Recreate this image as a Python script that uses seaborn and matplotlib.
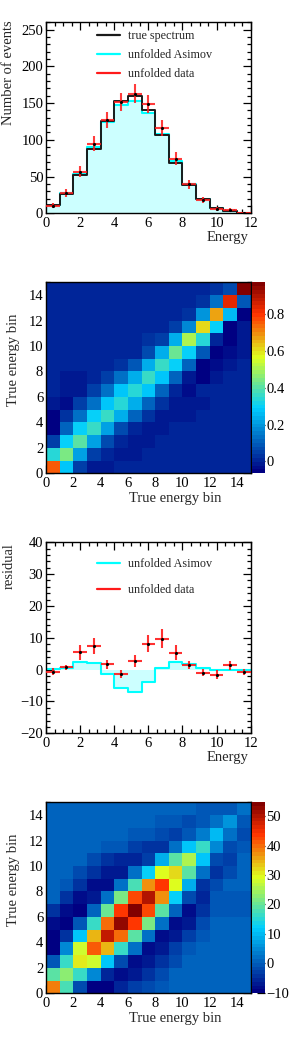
import numpy as np
import pandas as pd
import seaborn as sns
import matplotlib
matplotlib.use("Agg")
import matplotlib.pyplot as plt
from matplotlib.colors import LinearSegmentedColormap
from matplotlib.lines import Line2D
from matplotlib.ticker import MultipleLocator, FixedLocator, FixedFormatter

# ---------------- data ----------------
bin_edges = [0.0, 0.8, 1.6, 2.4, 3.2, 4.0, 4.8, 5.6, 6.4, 7.2, 8.0, 8.8, 9.6, 10.4, 11.2, 12.0]
bin_centers = [0.4, 1.2, 2.0, 2.8, 3.6, 4.4, 5.2, 6.0, 6.8, 7.6, 8.4, 9.2, 10.0, 10.8, 11.6]

true_spectrum = [11.0, 26.5, 51.5, 87.5, 125.5, 153.0, 160.0, 141.0, 107.0, 69.0, 38.0, 19.0, 7.7, 3.6, 1.0]
unfolded_asimov = [11.3, 27.1, 53.8, 89.6, 124.0, 147.1, 153.1, 137.1, 107.4, 71.3, 39.7, 19.5, 7.6, 3.6, 1.0]
unfolded_data = [10.4, 27.2, 56.9, 94.9, 127.2, 151.7, 162.7, 149.2, 116.7, 74.3, 39.4, 18.0, 6.1, 5.0, 0.3]
unfolded_data_err = [3.5, 5.5, 7.5, 9.7, 11.3, 12.3, 12.8, 12.2, 10.8, 8.6, 6.3, 4.2, 2.5, 2.2, 0.6]

asimov_residual = [0.3, 0.6, 2.3, 2.1, -1.5, -5.9, -6.9, -3.9, 0.4, 2.3, 1.7, 0.5, -0.1, 0.0, 0.0]
data_residual = [-0.6, 0.7, 5.4, 7.4, 1.7, -1.3, 2.7, 8.2, 9.7, 5.3, 1.35, -1.0, -1.6, 1.35, -0.7]
data_residual_err = [1.0, 0.8, 2.4, 2.6, 1.4, 1.3, 1.8, 2.8, 3.0, 2.4, 1.3, 1.1, 1.4, 1.5, 1.0]

# matrix rows = y bin 0..14 (bottom to top), columns = x bin 0..14
response_matrix = [
    [0.76, 0.28, 0.04, -0.01, -0.01, 0.01, 0.01, 0.01, 0.01, 0.01, 0.01, 0.0, 0.0, 0.0, 0.0],
    [0.33, 0.45, 0.22, 0.06, 0.0, -0.01, -0.01, 0.0, 0.0, 0.0, 0.0, 0.0, 0.0, 0.0, 0.0],
    [0.04, 0.30, 0.40, 0.22, 0.07, 0.0, -0.01, -0.01, 0.0, 0.0, 0.0, 0.0, 0.0, 0.0, 0.0],
    [-0.06, 0.12, 0.30, 0.37, 0.22, 0.07, 0.0, -0.01, -0.01, 0.0, 0.0, 0.0, 0.0, 0.0, 0.0],
    [-0.06, 0.03, 0.13, 0.29, 0.35, 0.23, 0.11, 0.02, -0.01, -0.01, -0.01, 0.0, 0.0, 0.0, 0.0],
    [-0.01, -0.03, 0.04, 0.13, 0.27, 0.34, 0.23, 0.11, 0.02, -0.01, -0.02, -0.01, 0.0, 0.0, 0.0],
    [0.0, -0.01, -0.02, 0.04, 0.13, 0.27, 0.34, 0.27, 0.11, 0.01, -0.03, 0.0, 0.0, 0.0, 0.0],
    [0.0, -0.01, -0.02, 0.0, 0.05, 0.13, 0.23, 0.35, 0.28, 0.12, -0.01, -0.05, -0.01, 0.0, 0.0],
    [0.0, 0.0, 0.0, 0.0, 0.0, 0.02, 0.09, 0.23, 0.37, 0.29, 0.12, -0.05, -0.04, -0.01, 0.0],
    [0.0, 0.0, 0.0, 0.0, 0.0, 0.0, 0.01, 0.07, 0.23, 0.42, 0.29, 0.10, -0.06, -0.03, -0.01],
    [0.0, 0.0, 0.0, 0.0, 0.0, 0.0, 0.0, 0.02, 0.05, 0.23, 0.50, 0.33, 0.01, -0.05, -0.01],
    [0.0, 0.0, 0.0, 0.0, 0.0, 0.0, 0.0, 0.0, 0.01, 0.04, 0.18, 0.60, 0.30, -0.05, -0.01],
    [0.0, 0.0, 0.0, 0.0, 0.0, 0.0, 0.0, 0.0, 0.0, 0.01, 0.02, 0.20, 0.68, 0.25, -0.06],
    [0.0, 0.0, 0.0, 0.0, 0.0, 0.0, 0.0, 0.0, 0.0, 0.0, 0.01, 0.02, 0.13, 0.83, 0.09],
    [0.0, 0.0, 0.0, 0.0, 0.0, 0.0, 0.0, 0.0, 0.0, 0.0, 0.0, 0.0, 0.02, 0.08, 0.97],
]

covariance_matrix = [
    [39.0, 17.7, -1.8, -9.5, -9.5, -6.3, -3.0, -1.8, -0.5, 0.5, 0.5, 0.5, 0.5, 0.5, 0.5],
    [19.0, 23.5, 16.4, 4.7, -6.3, -8.5, -7.3, -4.0, -2.0, 0.5, 0.5, 0.5, 0.5, 0.5, 0.5],
    [-0.8, 16.5, 30.7, 28.0, 11.2, -1.8, -8.5, -7.3, -4.0, -2.0, 0.5, 0.5, 0.5, 0.5, 0.5],
    [-10.2, 4.5, 28.0, 41.0, 34.6, 17.0, 1.5, -8.5, -7.5, -3.0, -1.0, 0.5, 0.5, 0.5, 0.5],
    [-10.2, -4.0, 11.5, 35.0, 48.8, 39.8, 19.0, 1.5, -8.5, -7.3, -3.0, -1.0, 0.5, 0.5, 0.5],
    [-8.5, -9.5, -1.0, 17.0, 40.0, 52.7, 43.7, 21.0, 1.5, -8.5, -7.0, -2.0, 0.5, 0.5, 0.5],
    [-5.0, -8.5, -9.5, 0.5, 20.5, 44.0, 54.5, 43.0, 19.0, 0.5, -8.5, -4.0, 0.0, 0.0, 0.0],
    [0.5, -4.0, -8.5, -7.5, 2.5, 21.0, 43.0, 50.8, 37.0, 13.0, -2.0, -6.3, 0.0, 0.0, 0.0],
    [0.5, -0.5, -4.0, -8.5, -8.0, 1.5, 18.0, 37.0, 44.0, 29.0, 8.5, -4.0, -2.0, 0.5, 0.5],
    [0.5, 0.5, -2.0, -4.0, -7.5, -7.5, 1.5, 13.0, 29.0, 32.6, 19.0, 1.5, -5.0, -2.0, 0.5],
    [0.5, 0.5, 0.5, -2.0, -4.0, -6.3, -6.3, -3.0, 8.0, 19.0, 26.0, 11.0, -2.0, -3.0, 0.5],
    [0.5, 0.5, 0.5, 0.5, 0.0, -1.0, -3.0, -5.0, -4.0, 1.5, 11.5, 16.5, 4.5, -2.0, -1.0],
    [0.5, 0.5, 0.5, 0.5, 0.5, 0.5, 0.0, -1.0, -2.0, -3.0, -1.0, 3.5, 10.5, 2.5, -2.0],
    [0.5, 0.5, 0.5, 0.5, 0.5, 0.5, 0.5, 0.5, 0.0, -1.0, -2.0, -1.0, 1.5, 6.0, -1.0],
    [0.5, 0.5, 0.5, 0.5, 0.5, 0.5, 0.5, 0.5, 0.5, 0.5, 0.5, 0.0, 0.0, 0.0, 2.5],
]

matrix_ticks = [0, 2, 4, 6, 8, 10, 12, 14]
cbar1_ticks = [0.0, 0.2, 0.4, 0.6, 0.8]
cbar1_labels = ["0", "0.2", "0.4", "0.6", "0.8"]
cbar2_ticks = [-10, 0, 10, 20, 30, 40, 50]
cbar2_labels = ["\u221210", "0", "10", "20", "30", "40", "50"]

# ---------------- style ----------------
sns.set_style("ticks")
plt.rcParams["font.family"] = ["Liberation Serif", "DejaVu Serif"]
plt.rcParams["axes.linewidth"] = 1.0
FS = 10.5
LEG_FS = 8.7

cmap = LinearSegmentedColormap.from_list(
    "rootjet",
    [(0.0, (0.0, 0.0, 0.51)), (0.34, (0.0, 0.81, 1.0)), (0.61, (0.87, 1.0, 0.12)),
     (0.84, (1.0, 0.2, 0.0)), (1.0, (0.51, 0.0, 0.0))], N=50)

fig = plt.figure(figsize=(2.97, 10.40), dpi=100)
L, W, H = 46 / 297, 204.7 / 297, 191 / 1040
bottoms = [1 - 213.3 / 1040, 1 - 473.3 / 1040, 1 - 733.3 / 1040, 1 - 993.3 / 1040]
ax1 = fig.add_axes([L, bottoms[0], W, H])
ax2 = fig.add_axes([L, bottoms[1], W, H])
ax3 = fig.add_axes([L, bottoms[2], W, H])
ax4 = fig.add_axes([L, bottoms[3], W, H])
cax2 = fig.add_axes([252 / 297, bottoms[1], 13 / 297, H])
cax4 = fig.add_axes([252 / 297, bottoms[3], 13 / 297, H])

half_w = np.diff(bin_edges) / 2.0


def style_axes(ax, xmaj, xmin, ymaj, ymin):
    ax.xaxis.set_major_locator(MultipleLocator(xmaj))
    ax.xaxis.set_minor_locator(MultipleLocator(xmin))
    ax.yaxis.set_major_locator(MultipleLocator(ymaj))
    ax.yaxis.set_minor_locator(MultipleLocator(ymin))
    ax.tick_params(which="both", direction="in", top=True, right=True,
                   bottom=True, left=True, width=0.9, colors="black",
                   labelsize=FS)
    ax.tick_params(which="major", length=6)
    ax.tick_params(which="minor", length=3)
    ax.tick_params(axis="y", pad=2)
    ax.tick_params(axis="x", pad=3)
    for s in ax.spines.values():
        s.set_visible(True)
        s.set_color("black")
        s.set_linewidth(1.0)


# ---------------- panel 1: spectra ----------------
sns.histplot(x=bin_centers, weights=unfolded_asimov, bins=bin_edges, element="step",
             fill=True, color="#ccffff", alpha=1.0, linewidth=0, ax=ax1)
sns.histplot(x=bin_centers, weights=unfolded_asimov, bins=bin_edges, element="step",
             fill=False, color="#00ffff", linewidth=1.5, ax=ax1)
sns.histplot(x=bin_centers, weights=true_spectrum, bins=bin_edges, element="step",
             fill=False, color="#1a1a1a", linewidth=1.4, ax=ax1)
ax1.errorbar(bin_centers, unfolded_data, xerr=half_w, yerr=unfolded_data_err, fmt="none",
             ecolor="#ff1a1a", elinewidth=1.5, capsize=0, alpha=0.85, zorder=5)
ax1.plot(bin_centers, unfolded_data, linestyle="none", marker=".", ms=2.5, color="black", zorder=6)
ax1.set_xlim(0, 12)
ax1.set_ylim(0, 260)
style_axes(ax1, 2, 0.5, 50, 10)
ax1.set_xlabel("Energy", fontsize=FS, ha="right")
ax1.xaxis.set_label_coords(0.987, -0.095)
ax1.set_ylabel("Number of events", fontsize=FS, ha="right")
ax1.yaxis.set_label_coords(-0.15, 1.012)
h1 = [Line2D([], [], color="#1a1a1a", lw=1.6), Line2D([], [], color="#00ffff", lw=1.6),
      Line2D([], [], color="#ff1a1a", lw=1.6)]
ax1.legend(h1, ["true spectrum", "unfolded Asimov", "unfolded data"], loc="upper left",
           bbox_to_anchor=(0.248, 0.96), frameon=False, fontsize=LEG_FS, handlelength=1.93,
           handletextpad=0.64, labelspacing=0.58, borderpad=0, borderaxespad=0)


# ---------------- heatmaps ----------------
def draw_matrix(ax, cax, mat, vmin, vmax, cticks, clabels):
    df = pd.DataFrame(mat)
    sns.heatmap(df, ax=ax, cmap=cmap, vmin=vmin, vmax=vmax, cbar=True, cbar_ax=cax,
                xticklabels=False, yticklabels=False)
    ax.set_xlim(0, 15)
    ax.set_ylim(0, 15)
    ax.xaxis.set_major_locator(FixedLocator(matrix_ticks))
    ax.yaxis.set_major_locator(FixedLocator(matrix_ticks))
    ax.set_xticklabels([str(t) for t in matrix_ticks])
    ax.set_yticklabels([str(t) for t in matrix_ticks])
    ax.xaxis.set_minor_locator(MultipleLocator(0.5))
    ax.yaxis.set_minor_locator(MultipleLocator(0.5))
    ax.tick_params(which="both", direction="in", top=True, right=True,
                   bottom=True, left=True, width=0.9, colors="black", labelsize=FS,
                   labelbottom=True, labelleft=True, labeltop=False, labelright=False)
    ax.tick_params(which="major", length=6)
    ax.tick_params(which="minor", length=3)
    ax.tick_params(axis="y", pad=2, labelrotation=0)
    ax.tick_params(axis="x", pad=3, labelrotation=0)
    for s in ax.spines.values():
        s.set_visible(True)
        s.set_color("black")
        s.set_linewidth(1.0)
    ax.set_xlabel("True energy bin", fontsize=FS)
    ax.xaxis.set_label_coords(0.633, -0.10)
    ax.set_ylabel("True energy bin", fontsize=FS)
    ax.yaxis.set_label_coords(-0.125, 0.593)
    cax.yaxis.set_major_locator(FixedLocator(cticks))
    cax.yaxis.set_major_formatter(FixedFormatter(clabels))
    cax.yaxis.set_minor_locator(FixedLocator([]))
    cax.tick_params(which="major", direction="in", length=6, width=0.9, right=True,
                    left=False, labelsize=FS, pad=1, colors="black")


draw_matrix(ax2, cax2, response_matrix, -0.064, 0.97, cbar1_ticks, cbar1_labels)

# ---------------- panel 3: residuals ----------------
sns.histplot(x=bin_centers, weights=asimov_residual, bins=bin_edges, element="step",
             fill=True, color="#ccffff", alpha=1.0, linewidth=0, ax=ax3)
sns.histplot(x=bin_centers, weights=asimov_residual, bins=bin_edges, element="step",
             fill=False, color="#00ffff", linewidth=1.5, ax=ax3)
ax3.errorbar(bin_centers, data_residual, xerr=half_w, yerr=data_residual_err, fmt="none",
             ecolor="#ff1a1a", elinewidth=1.5, capsize=0, alpha=0.9, zorder=5)
ax3.plot(bin_centers, data_residual, linestyle="none", marker=".", ms=2.5, color="black", zorder=6)
ax3.set_xlim(0, 12)
ax3.set_ylim(-20, 40)
style_axes(ax3, 2, 0.5, 10, 2)
ax3.set_xlabel("Energy", fontsize=FS, ha="right")
ax3.xaxis.set_label_coords(0.987, -0.095)
ax3.set_ylabel("residual", fontsize=FS, ha="right")
ax3.yaxis.set_label_coords(-0.15, 0.996)
h3 = [Line2D([], [], color="#00ffff", lw=1.6), Line2D([], [], color="#ff1a1a", lw=1.6)]
ax3.legend(h3, ["unfolded Asimov", "unfolded data"], loc="upper left",
           bbox_to_anchor=(0.248, 0.918), frameon=False, fontsize=LEG_FS, handlelength=1.93,
           handletextpad=0.64, labelspacing=1.15, borderpad=0, borderaxespad=0)

# ---------------- panel 4: covariance ----------------
draw_matrix(ax4, cax4, covariance_matrix, -10.2, 54.7, cbar2_ticks, cbar2_labels)

fig.savefig("out.png", dpi=100)
